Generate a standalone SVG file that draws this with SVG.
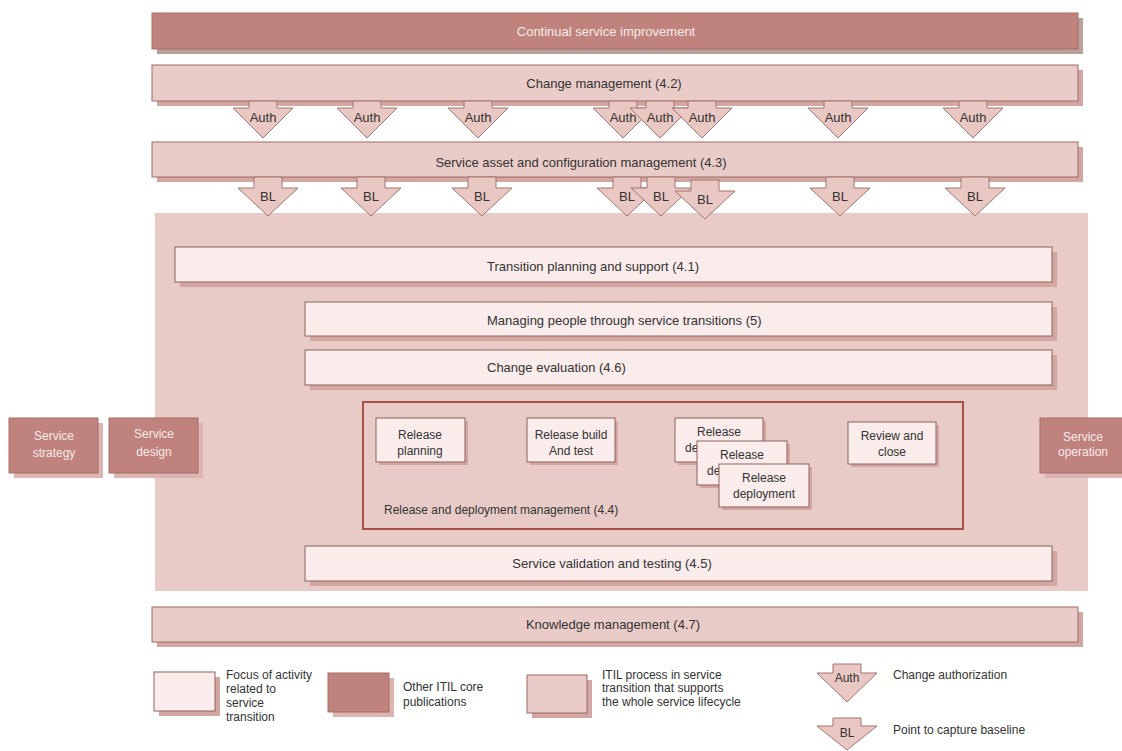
<svg xmlns="http://www.w3.org/2000/svg" width="1122" height="751" viewBox="0 0 1122 751">
<style>
text{font-family:"Liberation Sans",Arial,sans-serif;fill:#333}
.t13{font-size:13px}
.t12{font-size:12px}
.c{text-anchor:middle}
.w{fill:#f7ebe9}
.dark{fill:#c0827c;stroke:#a86d67;stroke-width:1}
.bar{fill:#e9ccc8;stroke:#9c6b66;stroke-width:1}
.focus{fill:#f9eceb;stroke:#8c625d;stroke-width:1}
.sh{fill:#d3a6a1}
.shd{fill:#dcb5b1}
.shg{fill:#b9a19e}
.arr{fill:#e9c7c2;stroke:#a6756f;stroke-width:1}
.rdm{fill:none;stroke:#a5514a;stroke-width:2}
</style>
<defs>
<path id="auth" d="M-14,0 L14,0 L14,7 L30,7 L0,37 L-30,7 L-14,7 Z"/>
<path id="bl" d="M-14,0 L14,0 L14,11 L30,11 L0,39 L-30,11 L-14,11 Z"/>
</defs>
<rect width="1122" height="751" fill="#ffffff"/>

<g id="csi">
<rect class="shg" x="157" y="18" width="926" height="36"/>
<rect class="dark" x="152" y="13" width="926" height="36"/>
<text class="t13 c w" x="606" y="36">Continual service improvement</text>
</g>

<g id="change-management">
<rect class="sh" x="157" y="70" width="926" height="36"/>
<rect class="bar" x="152" y="65" width="926" height="36"/>
<text class="t13 c" x="604" y="88">Change management (4.2)</text>
</g>

<g id="sacm">
<rect class="sh" x="157" y="147" width="926" height="35"/>
<rect class="bar" x="152" y="142" width="926" height="35"/>
<text class="t13 c" x="581" y="167">Service asset and configuration management (4.3)</text>
</g>

<g id="itil-process-area">
<rect x="155" y="213" width="933" height="378" fill="#e8cbc7"/>
</g>

<g id="connectors">
<g id="auth-arrows">
<use href="#auth" class="arr" x="263" y="101"/>
<text class="t13 c" x="263" y="122">Auth</text>
<use href="#auth" class="arr" x="367" y="101"/>
<text class="t13 c" x="367" y="122">Auth</text>
<use href="#auth" class="arr" x="478" y="101"/>
<text class="t13 c" x="478" y="122">Auth</text>
<use href="#auth" class="arr" x="623" y="101"/>
<text class="t13 c" x="623" y="122">Auth</text>
<use href="#auth" class="arr" x="660" y="101"/>
<text class="t13 c" x="660" y="122">Auth</text>
<use href="#auth" class="arr" x="702" y="101"/>
<text class="t13 c" x="702" y="122">Auth</text>
<use href="#auth" class="arr" x="838" y="101"/>
<text class="t13 c" x="838" y="122">Auth</text>
<use href="#auth" class="arr" x="973" y="101"/>
<text class="t13 c" x="973" y="122">Auth</text>
</g>
<g id="bl-arrows">
<use href="#bl" class="arr" x="268" y="177"/>
<text class="t13 c" x="268" y="201">BL</text>
<use href="#bl" class="arr" x="371" y="177"/>
<text class="t13 c" x="371" y="201">BL</text>
<use href="#bl" class="arr" x="482" y="177"/>
<text class="t13 c" x="482" y="201">BL</text>
<use href="#bl" class="arr" x="627" y="177"/>
<text class="t13 c" x="627" y="201">BL</text>
<use href="#bl" class="arr" x="661" y="177"/>
<text class="t13 c" x="661" y="201">BL</text>
<use href="#bl" class="arr" x="705" y="180"/>
<text class="t13 c" x="705" y="204">BL</text>
<use href="#bl" class="arr" x="840" y="177"/>
<text class="t13 c" x="840" y="201">BL</text>
<use href="#bl" class="arr" x="975" y="177"/>
<text class="t13 c" x="975" y="201">BL</text>
</g>
</g>

<g id="transition-planning">
<rect class="sh" x="180" y="252" width="877" height="35"/>
<rect class="focus" x="175" y="247" width="877" height="35"/>
<text class="t13" x="487" y="271">Transition planning and support (4.1)</text>
</g>

<g id="managing-people">
<rect class="sh" x="310" y="307" width="747" height="34"/>
<rect class="focus" x="305" y="302" width="747" height="34"/>
<text class="t13" x="487" y="325">Managing people through service transitions (5)</text>
</g>

<g id="change-evaluation">
<rect class="sh" x="310" y="355" width="747" height="35"/>
<rect class="focus" x="305" y="350" width="747" height="35"/>
<text class="t13" x="487" y="372">Change evaluation (4.6)</text>
</g>

<g id="release-deployment-management">
<rect class="rdm" x="363" y="402" width="600" height="127"/>
<text class="t12" x="384" y="514">Release and deployment management (4.4)</text>
</g>

<g id="release-planning">
<rect class="sh" x="379" y="421" width="89" height="44"/>
<rect class="focus" x="376" y="418" width="89" height="44"/>
<text class="t12 c" x="420" y="439">Release</text>
<text class="t12 c" x="420" y="455">planning</text>
</g>

<g id="release-build">
<rect class="sh" x="530" y="421" width="88" height="44"/>
<rect class="focus" x="527" y="418" width="88" height="44"/>
<text class="t12 c" x="571" y="439">Release build</text>
<text class="t12 c" x="571" y="455">And test</text>
</g>

<g id="release-deployment-1">
<rect class="sh" x="678" y="421" width="88" height="44"/>
<rect class="focus" x="675" y="418" width="88" height="44"/>
<text class="t12 c" x="719" y="436">Release</text>
<text class="t12" x="685" y="452">de</text>
</g>

<g id="release-deployment-2">
<rect class="sh" x="700" y="444" width="90" height="44"/>
<rect class="focus" x="697" y="441" width="90" height="44"/>
<text class="t12 c" x="742" y="459">Release</text>
<text class="t12" x="707" y="475">de</text>
</g>

<g id="release-deployment-3">
<rect class="sh" x="722" y="467" width="90" height="43"/>
<rect class="focus" x="719" y="464" width="90" height="43"/>
<text class="t12 c" x="764" y="482">Release</text>
<text class="t12 c" x="764" y="498">deployment</text>
</g>

<g id="review-close">
<rect class="sh" x="851" y="425" width="88" height="42"/>
<rect class="focus" x="848" y="422" width="88" height="42"/>
<text class="t12 c" x="892" y="440">Review and</text>
<text class="t12 c" x="892" y="456">close</text>
</g>

<g id="service-validation">
<rect class="sh" x="310" y="551" width="747" height="35"/>
<rect class="focus" x="305" y="546" width="747" height="35"/>
<text class="t13 c" x="612" y="568">Service validation and testing (4.5)</text>
</g>

<g id="knowledge-management">
<rect class="sh" x="157" y="612" width="926" height="35"/>
<rect class="bar" x="152" y="607" width="926" height="35"/>
<text class="t13 c" x="613" y="629">Knowledge management (4.7)</text>
</g>

<g id="service-strategy">
<rect class="shd" x="14" y="423" width="89" height="55"/>
<rect class="dark" x="9" y="418" width="89" height="55"/>
<text class="t12 c w" x="54" y="440">Service</text>
<text class="t12 c w" x="54" y="457">strategy</text>
</g>

<g id="service-design">
<rect class="shd" x="114" y="423" width="89" height="55"/>
<rect class="dark" x="109" y="418" width="89" height="55"/>
<text class="t12 c w" x="154" y="438">Service</text>
<text class="t12 c w" x="154" y="456">design</text>
</g>

<g id="service-operation">
<rect class="shd" x="1045" y="423" width="82" height="55"/>
<rect class="dark" x="1040" y="418" width="86" height="55"/>
<text class="t12 c w" x="1083" y="441">Service</text>
<text class="t12 c w" x="1083" y="456">operation</text>
</g>

<g id="legend">
<rect class="sh" x="159" y="677" width="61" height="39"/>
<rect class="focus" x="154" y="672" width="61" height="39"/>
<text class="t12" x="226" y="679">Focus of activity</text>
<text class="t12" x="226" y="693">related to</text>
<text class="t12" x="226" y="707">service</text>
<text class="t12" x="226" y="721">transition</text>

<rect class="shd" x="333" y="678" width="61" height="39"/>
<rect class="dark" x="328" y="673" width="61" height="39"/>
<text class="t12" x="403" y="691">Other ITIL core</text>
<text class="t12" x="403" y="706">publications</text>

<rect class="sh" x="532" y="680" width="60" height="38"/>
<rect class="bar" x="527" y="675" width="60" height="38"/>
<text class="t12" x="602" y="679">ITIL process in service</text>
<text class="t12" x="602" y="692">transition that supports</text>
<text class="t12" x="602" y="706">the whole service lifecycle</text>

<path class="arr" d="M833,664 L861,664 L861,673 L877,673 L847,702 L817,673 L833,673 Z"/>
<text class="t12 c" x="847" y="682">Auth</text>
<text class="t12" x="893" y="679">Change authorization</text>

<path class="arr" d="M833,718 L861,718 L861,726 L877,726 L847,750 L817,726 L833,726 Z"/>
<text class="t12 c" x="847" y="737">BL</text>
<text class="t12" x="893" y="734">Point to capture baseline</text>
</g>
</svg>
